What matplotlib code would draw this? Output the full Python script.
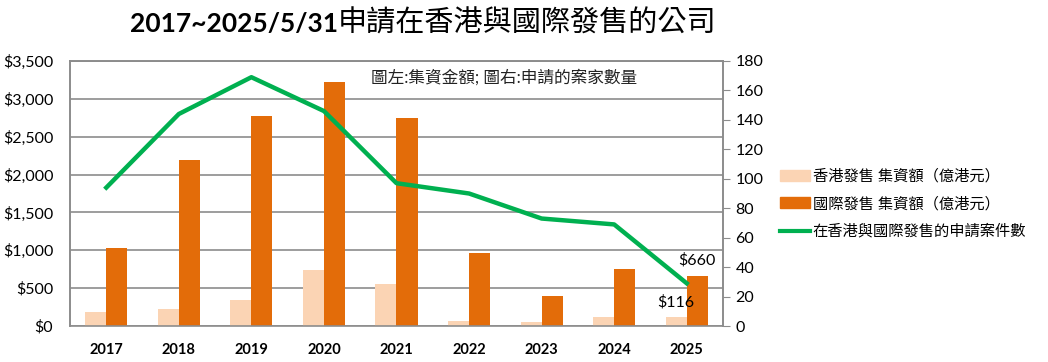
import matplotlib
matplotlib.use("Agg")
import matplotlib.pyplot as plt
from matplotlib.patches import Patch
from matplotlib.lines import Line2D
import numpy as np

years = ["2017", "2018", "2019", "2020", "2021", "2022", "2023", "2024", "2025"]
hk_amount = [185, 228, 343, 740, 558, 66, 50, 113, 116]
intl_amount = [1030, 2193, 2778, 3219, 2748, 964, 396, 753, 660]
case_count = [94, 144, 169, 146, 97, 90, 73, 69, 29]

plt.rcParams['font.family'] = ['Lato', 'Noto Sans CJK TC', 'DejaVu Sans']

fig = plt.figure(figsize=(10.48, 3.62), dpi=100)
ax = fig.add_axes([70/1048, 1-326/362, (723-70)/1048, (326-61)/362])
ax2 = ax.twinx()

x = np.arange(len(years))
w = 0.29
c_light = "#FBD4B4"
c_dark = "#E36C09"
c_green = "#00B050"

ax.bar(x - w/2, hk_amount, width=w, color=c_light, zorder=2)
ax.bar(x + w/2, intl_amount, width=w, color=c_dark, zorder=2)
ax2.plot(x, case_count, color=c_green, lw=3.2, zorder=3)

ax.set_xlim(-0.5, len(years) - 0.5)
ax.set_ylim(0, 3500)
ax.set_yticks(range(0, 3501, 500))
ax.set_yticklabels([f"${v:,}" for v in range(0, 3501, 500)], fontsize=11.5)
ax.set_xticks(x)
ax.set_xticklabels(years, fontsize=10.5, fontweight='bold')
ax.tick_params(axis='x', length=0, pad=12)
ax.tick_params(axis='y', length=0, pad=12)
ax.grid(axis='y', color="#8C8C8C", lw=1.2, zorder=0)
ax.set_axisbelow(True)

ax2.set_ylim(0, 180)
ax2.set_yticks(range(0, 181, 20))
ax2.tick_params(axis='y', labelsize=11.5, length=5, color="#8C8C8C", pad=4)

for a in (ax, ax2):
    for s in a.spines.values():
        s.set_color("#8C8C8C")
        s.set_linewidth(1.2)
ax2.spines['bottom'].set_visible(False)

ax.text(0.461, 0.94, "圖左:集資金額; 圖右:申請的案家數量", transform=ax.transAxes,
        fontsize=12, va='center', ha='left', color="#222222", zorder=5)

ax.text(x[-1] + w/2, intl_amount[-1] + 210, f"${intl_amount[-1]}", fontsize=11.5,
        ha='center', va='center')
ax.text(x[-1] - w/2, hk_amount[-1] + 200, f"${hk_amount[-1]}", fontsize=11.5,
        ha='center', va='center')

handles = [Patch(color=c_light), Patch(color=c_dark), Line2D([0], [0], color=c_green, lw=3)]
labels = ["香港發售 集資額（億港元）", "國際發售 集資額（億港元）", "在香港與國際發售的申請案件數"]
fig.legend(handles, labels, loc='center left', bbox_to_anchor=(766/1048, 1-204/362),
           frameon=False, fontsize=11, handlelength=2.0, handleheight=0.7,
           handletextpad=0.15, labelspacing=0.85)

fig.text(338/1048, 1-32/362, "2017~2025/5/31", fontsize=19, fontweight='bold',
         ha='right', va='baseline')
fig.text(338/1048, 1-32/362, "申請在香港與國際發售的公司", fontsize=21,
         ha='left', va='baseline')

fig.savefig("out.png", dpi=100)
